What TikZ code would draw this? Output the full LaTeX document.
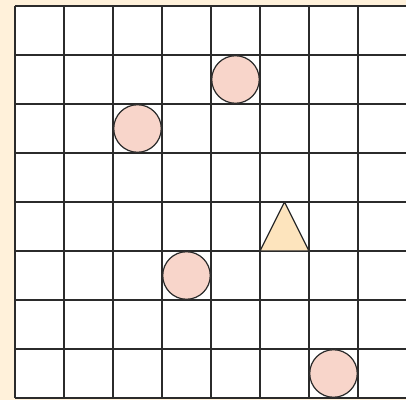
\documentclass[tikz,border=0pt]{standalone}
\usepackage{tikz}
\usetikzlibrary{shapes.geometric}
\definecolor{BoardCream}{HTML}{FFF1DA}
\definecolor{TokenPink}{HTML}{F8D5CA}
\definecolor{TokenSand}{HTML}{FDE4BD}
\definecolor{LineDark}{HTML}{2B2B2B}

\begin{document}
\begin{tikzpicture}[
  gridline/.style={line width=0.8pt,draw=LineDark},
  token/.style={circle,draw=LineDark,line width=0.7pt,fill=TokenPink,minimum size=0.97cm,inner sep=0pt},
  marker/.style={draw=LineDark,line width=0.7pt,fill=TokenSand,line join=round}
]
\useasboundingbox[fill=BoardCream] (-0.3061,-0.0408) rectangle (7.9796,8.1224);
\begin{scope}
\clip (-0.3061,-0.0408) rectangle (7.9796,8.1224);
\fill[white] (0,0) rectangle (8,8);
\draw[gridline] (0,0) grid (8,8);
\end{scope}
\node[token] (top) at (4.5,6.5) {};
\node[token] (upper) at (2.5,5.5) {};
\node[token] (lower) at (3.5,2.5) {};
\node[token] (corner) at (6.5,0.5) {};
\coordinate (tl) at (5,3);
\coordinate (tr) at (6,3);
\coordinate (tp) at (5.5,4);
\draw[marker] (tl) -- (tr) -- (tp) -- cycle;
\end{tikzpicture}
\end{document}
